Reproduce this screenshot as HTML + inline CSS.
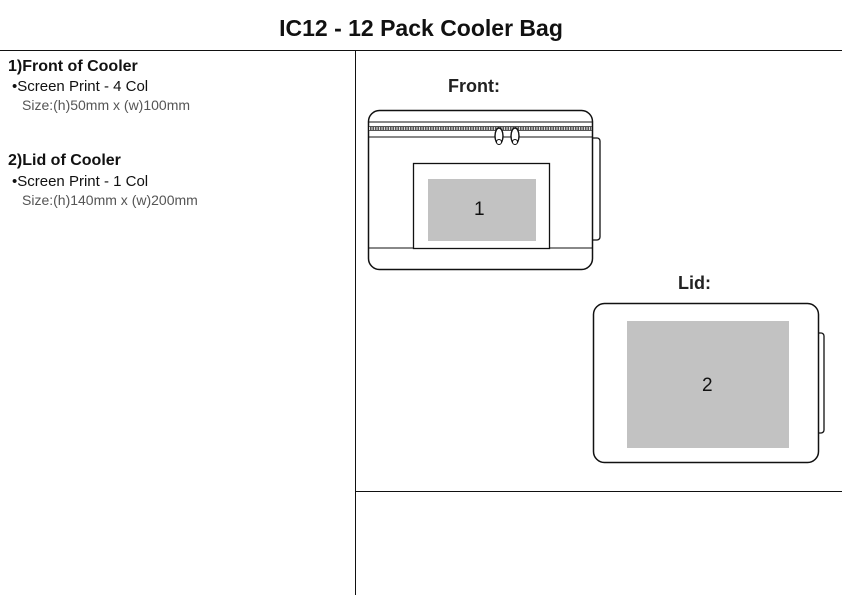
<!DOCTYPE html>
<html><head><style>
body{margin:0;width:842px;height:595px;background:#fff;position:relative;overflow:hidden;font-family:"Liberation Sans",sans-serif;color:#111}
.t{position:absolute;white-space:nowrap}
</style></head><body>
<div class="t" style="left:0;width:842px;text-align:center;top:15px;font-size:23px;font-weight:bold">IC12 - 12 Pack Cooler Bag</div>
<div class="t" style="left:8px;top:58px;font-size:16px;font-weight:bold">1)Front of Cooler</div>
<div class="t" style="left:12px;top:78px;font-size:15px">•Screen Print - 4 Col</div>
<div class="t" style="left:22px;top:97px;font-size:14px;color:#555">Size:(h)50mm x (w)100mm</div>
<div class="t" style="left:8px;top:152px;font-size:16px;font-weight:bold">2)Lid of Cooler</div>
<div class="t" style="left:12px;top:173px;font-size:15px">•Screen Print - 1 Col</div>
<div class="t" style="left:22px;top:192px;font-size:14px;color:#555">Size:(h)140mm x (w)200mm</div>
<div class="t" style="left:448px;top:76px;font-size:18px;font-weight:bold;color:#222">Front:</div>
<div class="t" style="left:678px;top:273px;font-size:18px;font-weight:bold;color:#222">Lid:</div>
<svg width="842" height="595" style="position:absolute;left:0;top:0" fill="none" stroke="#111">
<line x1="0" y1="50.5" x2="842" y2="50.5" stroke-width="1"/>
<line x1="355.5" y1="50" x2="355.5" y2="595"/>
<line x1="355" y1="491.5" x2="842" y2="491.5"/>
<path d="M593 138 h4 a3 3 0 0 1 3 3 v96 a3 3 0 0 1 -3 3 h-4" stroke-width="1.3"/>
<rect x="368.5" y="110.5" width="224" height="159" rx="11" fill="#fff" stroke-width="1.5"/>
<line x1="369" y1="122" x2="592" y2="122"/>
<rect x="369" y="126" width="223" height="5" fill="#555" stroke="none"/>
<line x1="369" y1="128.5" x2="592" y2="128.5" stroke="#ddd" stroke-width="3" stroke-dasharray="1 1.5"/>
<line x1="369" y1="137" x2="592" y2="137"/>
<line x1="369" y1="248" x2="592" y2="248"/>
<rect x="413.5" y="163.5" width="136" height="85" fill="#fff" stroke-width="1.3"/>
<rect x="428" y="179" width="108" height="62" fill="#c2c2c2" stroke="none"/>
<ellipse cx="499" cy="136" rx="4" ry="8" fill="#fff" stroke-width="1.4"/><circle cx="499" cy="142" r="2.5" fill="#fff"/>
<ellipse cx="515" cy="136" rx="4" ry="8" fill="#fff" stroke-width="1.4"/><circle cx="515" cy="142" r="2.5" fill="#fff"/>
<path d="M818 333 h3 a3 3 0 0 1 3 3 v94 a3 3 0 0 1 -3 3 h-3" stroke-width="1.3"/>
<rect x="593.5" y="303.5" width="225" height="159" rx="11" fill="#fff" stroke-width="1.5"/>
<rect x="627" y="321" width="162" height="127" fill="#c2c2c2" stroke="none"/>
</svg>
<div class="t" style="left:474px;top:199px;font-size:19px">1</div>
<div class="t" style="left:702px;top:375px;font-size:19px">2</div>
</body></html>
